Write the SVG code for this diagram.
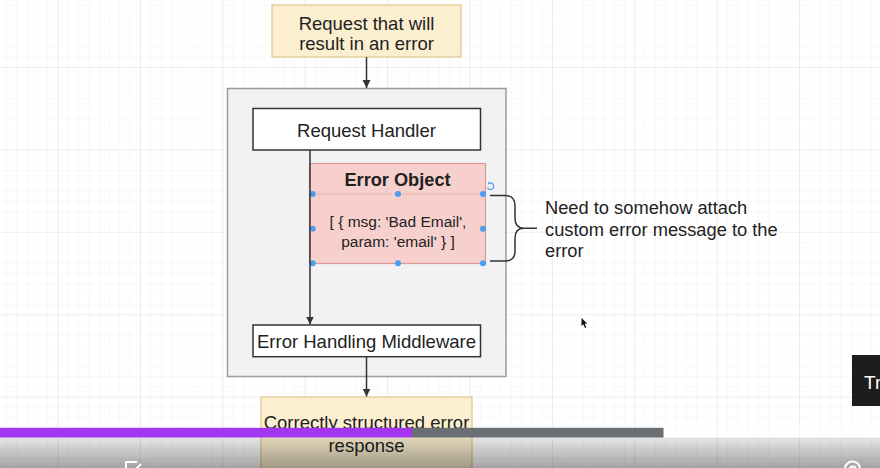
<svg xmlns="http://www.w3.org/2000/svg" width="880" height="468" viewBox="0 0 880 468">
<style>
  text { font-family: "Liberation Sans", Arial, sans-serif; fill: #222; }
  .t { font-size: 18.5px; text-anchor: middle; }
  .b { font-size: 15.5px; text-anchor: middle; }
  .ann { font-size: 18.3px; }
  .box { fill: #ffffff; stroke: #333333; stroke-width: 1.5; }
  .yel { fill: #fcefcf; stroke: #e2c88f; stroke-width: 1.3; }
  .conn { stroke: #333333; stroke-width: 1.5; fill: none; }
  .h { fill: #4a9df0; }
</style>
<defs>
  <pattern id="minor" patternUnits="userSpaceOnUse" x="57.5" y="67" width="10.3" height="10.3">
    <path d="M0 0 H10.3 M0 0 V10.3" stroke="#f1f1f3" stroke-width="1" fill="none"/>
  </pattern>
  <pattern id="major" patternUnits="userSpaceOnUse" x="57.5" y="67" width="82.4" height="82.4">
    <path d="M0 0 H82.4 M0 0 V82.4" stroke="#e5e5e8" stroke-width="1.2" fill="none"/>
  </pattern>
  <marker id="arr" markerWidth="10" markerHeight="10" refX="8" refY="4" orient="auto" markerUnits="userSpaceOnUse">
    <path d="M0 0 L8 4 L0 8 Z" fill="#333333"/>
  </marker>
  <linearGradient id="shade" x1="0" y1="0" x2="0" y2="1">
    <stop offset="0" stop-color="#000" stop-opacity="0.1"/>
    <stop offset="1" stop-color="#000" stop-opacity="0.36"/>
  </linearGradient>
</defs>

<rect width="880" height="468" fill="#ffffff"/>
<rect width="880" height="468" fill="url(#minor)"/>
<rect width="880" height="468" fill="url(#major)"/>

<g id="request">
  <rect class="yel" x="272" y="5" width="189" height="52"/>
  <text class="t" x="366.5" y="30">Request that will</text>
  <text class="t" x="366.5" y="50">result in an error</text>
</g>

<g id="container">
  <rect x="227.5" y="88.5" width="278.5" height="288" fill="#f2f2f5" stroke="#9c9c9c" stroke-width="1.5"/>
</g>

<g id="request-handler">
  <rect class="box" x="253" y="108.5" width="227.5" height="41.5"/>
  <text class="t" x="366.5" y="137">Request Handler</text>
</g>

<g id="error-object">
  <rect x="309.5" y="163.5" width="176" height="100" fill="#f7d0cd" stroke="#d99a95" stroke-width="1.2"/>
  <line x1="309.5" y1="194" x2="485.5" y2="194" stroke="#d79b98" stroke-width="1" stroke-dasharray="2 2"/>
  <text x="397.5" y="186" font-size="18.2" font-weight="bold" text-anchor="middle">Error Object</text>
  <text class="b" x="398" y="227.3">[ { msg: 'Bad Email',</text>
  <text class="b" x="398" y="246.7">param: 'email' } ]</text>
  <g id="selection">
    <circle class="h" cx="312.7" cy="194" r="3"/>
    <circle class="h" cx="398" cy="194" r="3"/>
    <circle class="h" cx="483" cy="194" r="3"/>
    <circle class="h" cx="312.7" cy="228.7" r="3"/>
    <circle class="h" cx="483" cy="228.7" r="3"/>
    <circle class="h" cx="312.7" cy="263.3" r="3"/>
    <circle class="h" cx="398" cy="263.3" r="3"/>
    <circle class="h" cx="483" cy="263.3" r="3"/>
    <path d="M487.5 187.5 A3.2 3.2 0 1 0 489.5 183.2" stroke="#4a9df0" stroke-width="1.2" fill="none"/>
    <path d="M488.5 181.5 L490.5 183.4 L488 184.6 Z" fill="#4a9df0"/>
  </g>
</g>

<g id="brace">
  <path class="conn" d="M490 195.5 H505 Q515 195.5 515 205.5 V218.5 Q515 228.3 524 228.3 H537 M524 228.3 Q515 228.3 515 238 V251 Q515 261 505 261 H490"/>
</g>

<g id="annotation">
  <text class="ann" x="545" y="214">Need to somehow attach</text>
  <text class="ann" x="545" y="235.5">custom error message to the</text>
  <text class="ann" x="545" y="257">error</text>
</g>

<g id="error-middleware">
  <rect class="box" x="253" y="325" width="227.5" height="31.7"/>
  <text class="t" x="366.5" y="348.3">Error Handling Middleware</text>
</g>

<g id="response">
  <rect class="yel" x="261" y="397" width="211" height="80"/>
  <text class="t" x="366.5" y="429.3">Correctly structured error</text>
  <text class="t" x="366.5" y="451.7">response</text>
</g>

<g id="connectors">
  <line class="conn" x1="366.5" y1="57" x2="366.5" y2="88" marker-end="url(#arr)"/>
  <line class="conn" x1="310" y1="150" x2="310" y2="324.5" marker-end="url(#arr)"/>
  <line class="conn" x1="366.5" y1="357" x2="366.5" y2="396.5" marker-end="url(#arr)"/>
</g>

<g id="cursor">
  <path d="M581.5 318 L581.5 326 L583.3 324.3 L585 328 L586.3 327.4 L584.7 323.8 L587.2 323.6 Z" fill="#111"/>
</g>

<g id="caption-box">
  <rect x="852" y="355" width="30" height="51" fill="#1c1d1f"/>
  <text x="864" y="389.3" font-size="19" style="fill:#ffffff">Tr</text>
</g>

<g id="player">
  <rect x="0" y="437.5" width="880" height="30.5" fill="url(#shade)"/>
  <rect x="663.5" y="427.8" width="216.5" height="9.7" fill="#ffffff" fill-opacity="0.45"/>
  <rect x="0" y="427.8" width="412" height="9.7" fill="#a435f0"/>
  <rect x="412" y="427.8" width="251.5" height="9.7" fill="#6a6f73"/>
  <path d="M126 470 V462 H137 M141 464 L135 470" stroke="#ffffff" stroke-width="2" fill="none"/>
  <path d="M845 470 A7 7 0 0 1 860 468 M849 470 A4 4 0 0 1 856 468" stroke="#ffffff" stroke-width="2" fill="none"/>
</g>
</svg>
